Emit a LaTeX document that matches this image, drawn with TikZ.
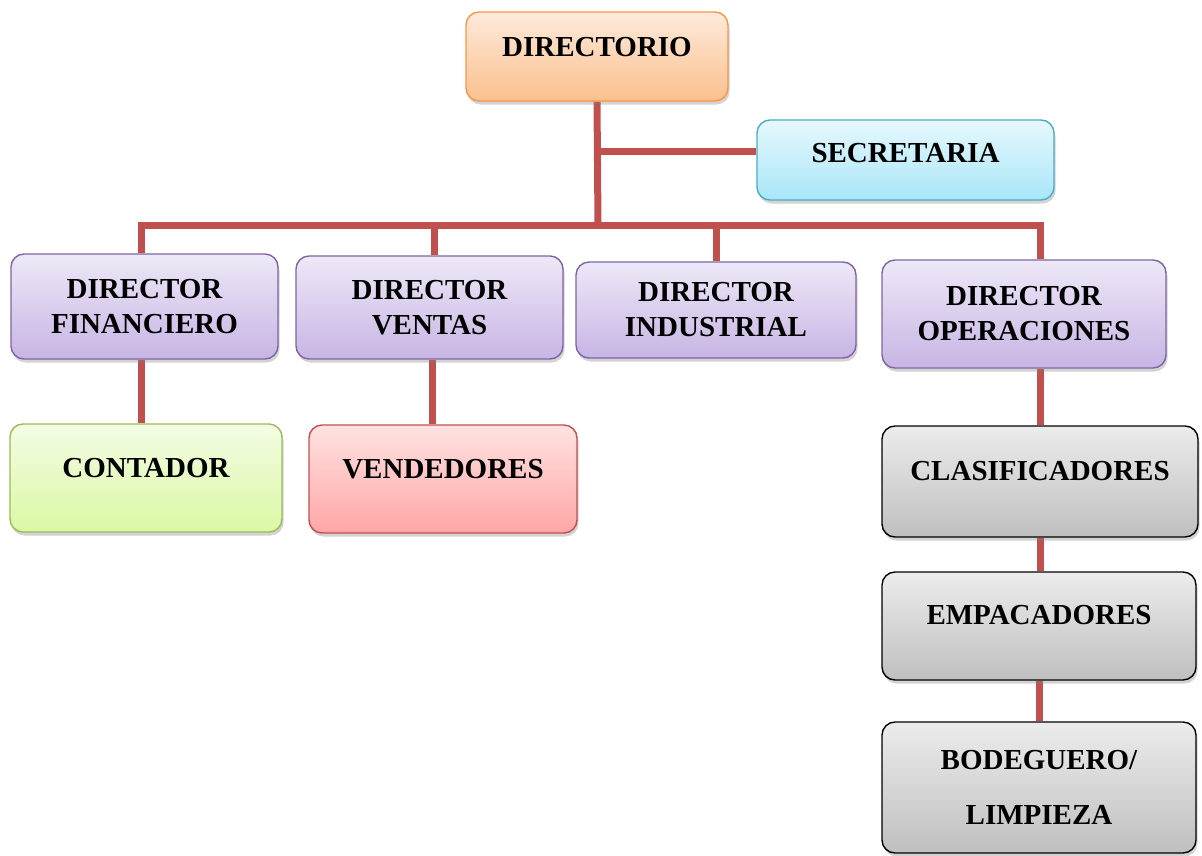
\documentclass[tikz,border=0pt]{standalone}
\usepackage{fontspec}
\setmainfont{Liberation Serif}
\usepackage{tikz}
\usetikzlibrary{shadows, backgrounds}

\definecolor{linecol}{HTML}{C0504D}
\definecolor{orangetop}{HTML}{FDEADB}
\definecolor{orangebot}{HTML}{FBC08E}
\definecolor{orangeline}{HTML}{F79646}
\definecolor{bluetop}{HTML}{E6F8FD}
\definecolor{bluebot}{HTML}{A9E6F8}
\definecolor{blueline}{HTML}{4BACC6}
\definecolor{purpletop}{HTML}{EEE8F7}
\definecolor{purplebot}{HTML}{C7B5E4}
\definecolor{purpleline}{HTML}{8064A2}
\definecolor{greentop}{HTML}{F3FCE4}
\definecolor{greenbot}{HTML}{DBF8A4}
\definecolor{greenline}{HTML}{9BBB59}
\definecolor{redtop}{HTML}{FFE2E2}
\definecolor{redbot}{HTML}{FFA6A6}

\begin{document}
\begin{tikzpicture}[x=1pt, y=-1pt,
    box/.style={draw, rounded corners=13pt, line width=1.4pt, align=center, inner sep=0pt,
        font=\fontsize{29}{35}\selectfont\bfseries,
        drop shadow={opacity=0.35, shadow xshift=1.5pt, shadow yshift=-3.5pt}},
    oneline/.style={text height=19pt, text depth=20pt},
    orangebox/.style={box, draw=orangeline, top color=orangetop, bottom color=orangebot},
    bluebox/.style={box, draw=blueline, top color=bluetop, bottom color=bluebot},
    purplebox/.style={box, draw=purpleline, top color=purpletop, bottom color=purplebot},
    greenbox/.style={box, draw=greenline, top color=greentop, bottom color=greenbot},
    redbox/.style={box, draw=linecol, top color=redtop, bottom color=redbot},
    graybox/.style={box, draw=black, top color=gray!15, bottom color=gray!50},
    linea/.style={draw=linecol, line width=7pt}]

    \useasboundingbox (0,0) rectangle (1202,855);

    % top of the chart
    \node[orangebox, oneline, minimum width=262pt, minimum height=89pt] (dir) at (597,56.5) {DIRECTORIO};
    \node[bluebox, text height=19pt, text depth=15pt, minimum width=297pt, minimum height=80pt] (sec) at (905.5,160) {SECRETARIA};

    % directors
    \node[purplebox, minimum width=267pt, minimum height=105pt] (fin) at (144.5,306.5) {DIRECTOR\\FINANCIERO};
    \node[purplebox, minimum width=267pt, minimum height=103pt] (ven) at (429.5,307.5) {DIRECTOR\\VENTAS};
    \node[purplebox, minimum width=280pt, minimum height=96pt] (ind) at (716,310) {DIRECTOR\\INDUSTRIAL};
    \node[purplebox, minimum width=284pt, minimum height=108pt] (ope) at (1024,314) {DIRECTOR\\OPERACIONES};

    % staff
    \node[greenbox, oneline, minimum width=272pt, minimum height=108pt] (con) at (146,478) {CONTADOR};
    \node[redbox, oneline, minimum width=268pt, minimum height=108pt] (vnd) at (443,479) {VENDEDORES};
    \node[graybox, oneline, text depth=22pt, minimum width=316pt, minimum height=111pt] (cla) at (1040,481.5) {CLASIFICADORES};
    \node[graybox, oneline, text depth=22pt, minimum width=314pt, minimum height=108pt] (emp) at (1039,626) {EMPACADORES};
    \node[graybox, minimum width=314pt, minimum height=131pt] (bod) at (1039,787.5) {BODEGUERO/\\[20pt]LIMPIEZA};

    \coordinate (bus) at (598,225);

    % connectors
    \begin{scope}[on background layer]
        \draw[linea] (dir.south) -- (bus);
        \draw[linea] ([yshift=9pt]sec.west) -- ([yshift=9pt]sec.west -| dir.south);
        \draw[linea] ([xshift=-3pt]fin.north) |- (bus) -| ([xshift=16pt]ope.north);
        \draw[linea] ([xshift=5pt]ven.north) -- ([xshift=5pt]ven.north |- bus);
        \draw[linea] (ind.north) -- (ind.north |- bus);
        \draw[linea] ([xshift=-3pt]fin.south) -- ([xshift=-3pt]fin.south |- con.north);
        \draw[linea] ([xshift=3pt]ven.south) -- ([xshift=3pt]ven.south |- vnd.north);
        \draw[linea] (cla.north) -- (cla.north |- ope.south);
        \draw[linea] (cla.south) -- (cla.south |- emp.north);
        \draw[linea] (emp.south) -- (emp.south |- bod.north);
    \end{scope}
\end{tikzpicture}
\end{document}
